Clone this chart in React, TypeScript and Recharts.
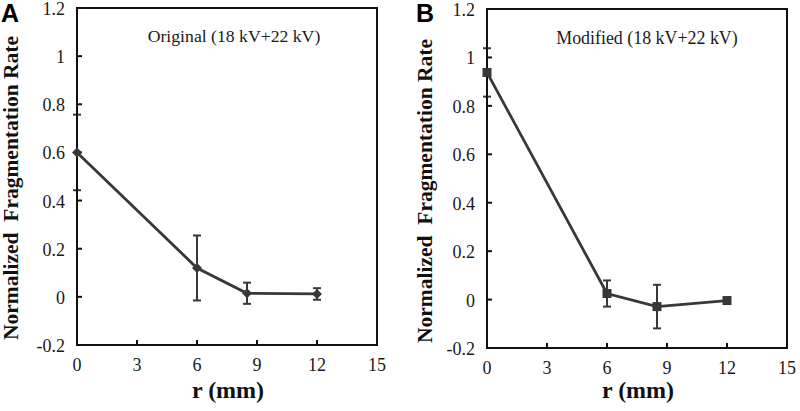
import React from 'react';
import { LineChart, Line, XAxis, YAxis, ErrorBar, ReferenceArea } from 'recharts';

// ---- data ----
const rValues = [0, 6, 8.5, 12];
const originalRate = [0.6, 0.12, 0.015, 0.012];
const originalErr = [0.157, 0.135, 0.044, 0.024];
const modifiedRate = [0.938, 0.025, -0.029, -0.004];
const modifiedErr = [0.1, 0.054, 0.09, 0.006];
const xTicks = [0, 3, 6, 9, 12, 15];
const yTicks = [-0.2, 0, 0.2, 0.4, 0.6, 0.8, 1, 1.2];
const yTickLabels = ['-0.2', '0', '0.2', '0.4', '0.6', '0.8', '1', '1.2'];

const dataA = rValues.map((r, i) => ({ r, v: originalRate[i], e: originalErr[i] }));
const dataB = rValues.map((r, i) => ({ r, v: modifiedRate[i], e: modifiedErr[i] }));

const SERIF = '"Liberation Serif", "Times New Roman", serif';
const SANS = '"Liberation Sans", Arial, sans-serif';
const LINE = '#383838';
const AXIS = '#111';

const yFmt = (v: number) => {
  const i = yTicks.findIndex((t) => Math.abs(t - v) < 1e-9);
  return i >= 0 ? yTickLabels[i] : String(v);
};

const XTick = (props: any) => {
  const { x, y, payload } = props;
  return (
    <text
      x={x}
      y={y + 13}
      textAnchor="middle"
      fontFamily={SERIF}
      style={{ fontFamily: SERIF }}
      fontSize={18}
      fill="#1a1a1a"
    >
      {String(payload.value)}
    </text>
  );
};

const YTick = (props: any) => {
  const { x, y, payload } = props;
  return (
    <text
      x={x}
      y={y + 7}
      textAnchor="end"
      fontFamily={SERIF}
      style={{ fontFamily: SERIF }}
      fontSize={18}
      fill="#1a1a1a"
    >
      {yFmt(payload.value)}
    </text>
  );
};

const Diamond = (props: any) => {
  const { cx, cy, index } = props;
  if (cx == null || cy == null) return <g key={`d${index}`} />;
  const s = 5;
  return (
    <path
      key={`d${index}`}
      d={`M${cx},${cy - s}L${cx + s},${cy}L${cx},${cy + s}L${cx - s},${cy}Z`}
      fill={LINE}
    />
  );
};

const Square = (props: any) => {
  const { cx, cy, index } = props;
  if (cx == null || cy == null) return <g key={`s${index}`} />;
  const s = 4.5;
  return <rect key={`s${index}`} x={cx - s} y={cy - s} width={2 * s} height={2 * s} fill={LINE} />;
};

function Panel(props: {
  data: any[];
  dot: any;
  top: number;
  right: number;
  yWidth: number;
  xHeight: number;
}) {
  const { data, dot, top, right, yWidth, xHeight } = props;
  return (
    <LineChart
      width={400}
      height={411}
      data={data}
      margin={{ top, right, left: 0, bottom: 0 }}
      style={{ fontFamily: SERIF }}
    >
      <XAxis
        dataKey="r"
        type="number"
        domain={[0, 15]}
        ticks={xTicks}
        height={xHeight}
        tickSize={-5}
        tickMargin={18}
        tick={<XTick />}
        stroke={AXIS}
        strokeWidth={2}
        interval={0}
        allowDecimals
      />
      <YAxis
        type="number"
        domain={[-0.2, 1.2]}
        ticks={yTicks}
        width={yWidth}
        tickSize={-5}
        tickMargin={17}
        tick={<YTick />}
        stroke={AXIS}
        strokeWidth={2}
        interval={0}
      />
      <ReferenceArea
        x1={0}
        x2={15}
        y1={-0.2}
        y2={1.2}
        fill="none"
        fillOpacity={0}
        stroke={AXIS}
        strokeWidth={2}
      />
      <Line
        type="linear"
        dataKey="v"
        stroke={LINE}
        strokeWidth={2.8}
        dot={dot}
        activeDot={false}
        isAnimationActive={false}
      >
        <ErrorBar dataKey="e" direction="y" width={4} stroke={LINE} strokeWidth={2} />
      </Line>
    </LineChart>
  );
}

export default function App() {
  return (
    <div
      style={{
        position: 'absolute',
        left: 0,
        top: 0,
        width: 800,
        height: 411,
        background: '#fff',
        overflow: 'hidden',
      }}
    >
      <div style={{ display: 'flex', flexDirection: 'row' }}>
        <Panel data={dataA} dot={Diamond} top={8} right={23} yWidth={77} xHeight={66} />
        <Panel data={dataB} dot={Square} top={9} right={13} yWidth={87} xHeight={63} />
      </div>
      <svg
        width={800}
        height={411}
        style={{ position: 'absolute', left: 0, top: 0, pointerEvents: 'none' }}
      >
        <text x={1} y={22} fontFamily={SANS} fontWeight="bold" fontSize={25} fill="#000">
          A
        </text>
        <text x={416} y={22} fontFamily={SANS} fontWeight="bold" fontSize={25} fill="#000">
          B
        </text>
        <text x={234} y={42} textAnchor="middle" fontFamily={SERIF} fontSize={17.7} fill="#1a1a1a">
          Original (18 kV+22 kV)
        </text>
        <text x={647} y={44} textAnchor="middle" fontFamily={SERIF} fontSize={17.9} fill="#1a1a1a">
          Modified (18 kV+22 kV)
        </text>
        <text
          transform="translate(18,188) rotate(-90)"
          textAnchor="middle"
          fontFamily={SERIF}
          fontWeight="bold"
          fontSize={21.5}
          fill="#111"
          style={{ whiteSpace: 'pre' }}
        >
          {'Normalized  Fragmentation Rate'}
        </text>
        <text
          transform="translate(432,191) rotate(-90)"
          textAnchor="middle"
          fontFamily={SERIF}
          fontWeight="bold"
          fontSize={21.5}
          fill="#111"
          style={{ whiteSpace: 'pre' }}
        >
          {'Normalized  Fragmentation Rate'}
        </text>
        <text x={228} y={398} textAnchor="middle" fontFamily={SERIF} fontWeight="bold" fontSize={24} fill="#111">
          r (mm)
        </text>
        <text x={638} y={398} textAnchor="middle" fontFamily={SERIF} fontWeight="bold" fontSize={24} fill="#111">
          r (mm)
        </text>
      </svg>
    </div>
  );
}
